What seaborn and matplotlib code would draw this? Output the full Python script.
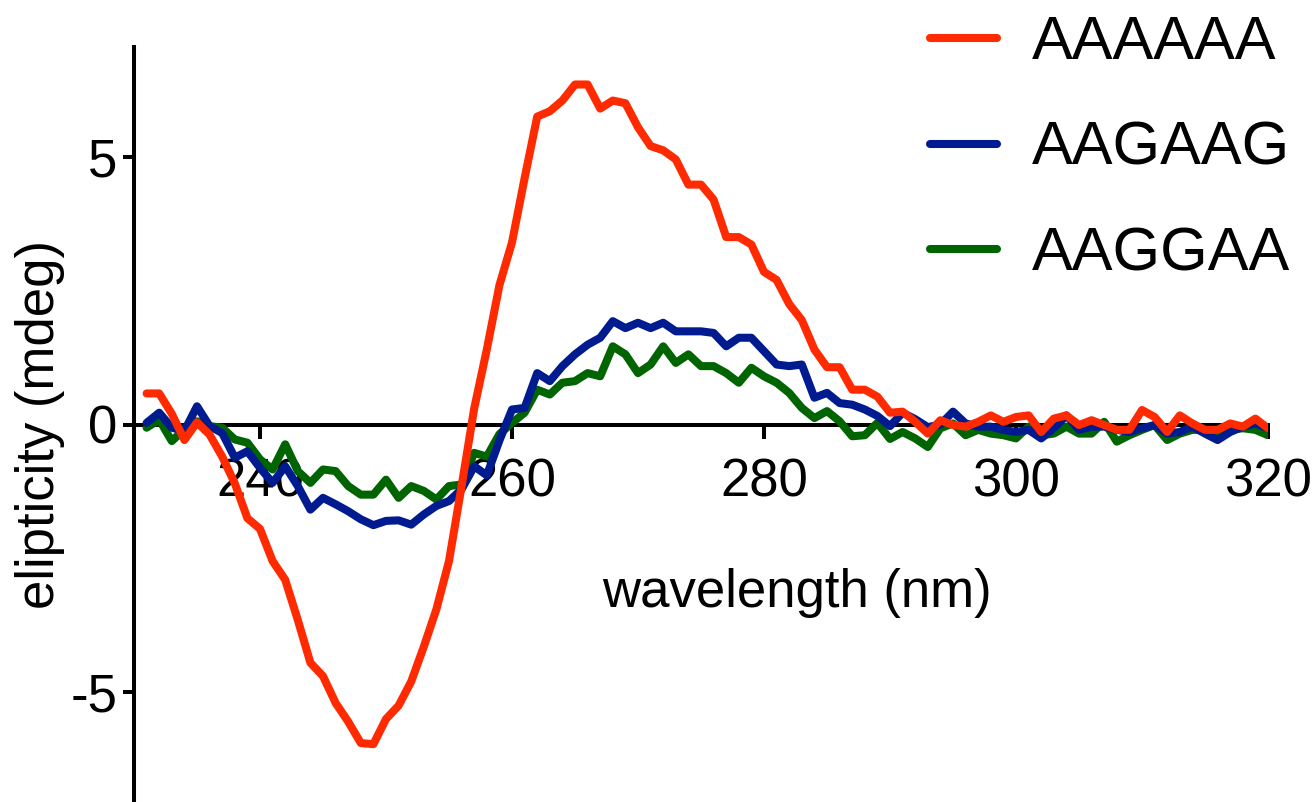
import numpy as np
import pandas as pd
import seaborn as sns
import matplotlib
matplotlib.use('Agg')
import matplotlib.pyplot as plt

# CD spectra, 1 nm steps
wavelength = np.arange(231, 321)

aaaaaa = [0.58, 0.58, 0.20, -0.29, 0.04, -0.19, -0.60, -1.10, -1.75, -1.95,
          -2.55, -2.90, -3.65, -4.45, -4.70, -5.20, -5.55, -5.95, -5.97, -5.50,
          -5.25, -4.80, -4.15, -3.45, -2.55, -1.15, 0.30, 1.40, 2.60, 3.40,
          4.60, 5.75, 5.85, 6.05, 6.35, 6.35, 5.90, 6.05, 6.00, 5.55,
          5.20, 5.12, 4.95, 4.48, 4.48, 4.20, 3.50, 3.50, 3.36, 2.85,
          2.70, 2.25, 1.95, 1.40, 1.07, 1.07, 0.65, 0.65, 0.52, 0.22,
          0.24, 0.05, -0.17, 0.08, -0.01, -0.04, 0.05, 0.17, 0.05, 0.14,
          0.17, -0.14, 0.11, 0.17, -0.01, 0.08, -0.01, -0.10, -0.10, 0.27,
          0.14, -0.14, 0.17, 0.02, -0.10, -0.10, 0.02, -0.04, 0.11, -0.07]

aagaag = [0.03, 0.22, -0.06, -0.12, 0.34, -0.03, -0.16, -0.62, -0.50, -0.81,
          -1.09, -0.78, -1.15, -1.59, -1.37, -1.49, -1.62, -1.77, -1.88, -1.80,
          -1.79, -1.87, -1.68, -1.52, -1.43, -1.21, -0.78, -0.95, -0.30, 0.28,
          0.31, 0.96, 0.81, 1.09, 1.31, 1.49, 1.62, 1.93, 1.80, 1.90,
          1.80, 1.90, 1.74, 1.74, 1.74, 1.71, 1.46, 1.62, 1.62, 1.37,
          1.12, 1.09, 1.12, 0.50, 0.59, 0.40, 0.37, 0.28, 0.16, -0.03,
          0.22, 0.10, -0.05, 0.00, 0.24, 0.02, -0.04, -0.04, -0.10, -0.14,
          -0.10, -0.26, -0.07, 0.17, -0.10, -0.04, -0.04, -0.10, -0.14, -0.07,
          -0.01, -0.17, -0.14, -0.04, -0.17, -0.29, -0.14, -0.04, 0.02, -0.07]

aaggaa = [-0.06, 0.09, -0.31, -0.09, 0.06, -0.03, -0.06, -0.28, -0.34, -0.65,
          -0.84, -0.37, -0.87, -1.09, -0.84, -0.87, -1.15, -1.31, -1.31, -1.03,
          -1.37, -1.15, -1.24, -1.40, -1.15, -1.12, -0.53, -0.60, -0.18, 0.03,
          0.22, 0.65, 0.56, 0.78, 0.81, 0.96, 0.90, 1.46, 1.31, 0.96,
          1.12, 1.46, 1.15, 1.31, 1.09, 1.09, 0.96, 0.78, 1.06, 0.90,
          0.78, 0.59, 0.31, 0.12, 0.25, 0.06, -0.22, -0.20, 0.03, -0.27,
          -0.14, -0.26, -0.42, -0.07, 0.02, -0.20, -0.10, -0.17, -0.20, -0.26,
          -0.04, -0.20, -0.17, -0.04, -0.17, -0.17, 0.05, -0.32, -0.20, -0.10,
          -0.01, -0.29, -0.17, -0.10, -0.10, -0.14, -0.10, -0.07, -0.10, -0.20]

names = ['AAAAAA', 'AAGAAG', 'AAGGAA']
colors = {'AAAAAA': '#ff2a00', 'AAGAAG': '#001a8f', 'AAGGAA': '#006400'}

df = pd.DataFrame({'wavelength': np.tile(wavelength, 3),
                   'ellipticity': aaaaaa + aagaag + aaggaa,
                   'seq': np.repeat(names, len(wavelength))})

sns.set_theme(style='ticks')
plt.rcParams['font.family'] = ['Liberation Sans', 'DejaVu Sans']
plt.rcParams['axes.unicode_minus'] = False
plt.rcParams['text.color'] = 'black'
plt.rcParams['axes.labelcolor'] = 'black'

fig = plt.figure(figsize=(13.16, 8.02), dpi=100)
ax = fig.add_axes([134 / 1316, 0, 1134 / 1316, 755 / 802])

# draw green first, red on top
sns.lineplot(data=df, x='wavelength', y='ellipticity', hue='seq',
             hue_order=names[::-1], palette=colors, linewidth=5.8,
             ax=ax, zorder=3, legend=False)

ax.set_xlim(230, 320)
ax.set_ylim(-7.05, 7.05)

ax.spines['top'].set_visible(False)
ax.spines['right'].set_visible(False)
ax.spines['bottom'].set_position(('data', 0))
for s in ['left', 'bottom']:
    ax.spines[s].set_linewidth(2.9)
    ax.spines[s].set_color('black')

ax.set_xticks([240, 260, 280, 300, 320])
ax.set_yticks([-5, 0, 5])
ax.tick_params(axis='both', labelsize=38, width=2.9, color='black', labelcolor='black')
ax.tick_params(axis='x', length=10, pad=14)
ax.tick_params(axis='y', length=8, pad=4)

ax.set_xlabel('wavelength (nm)', fontsize=38)
ax.set_ylabel('elipticity (mdeg)', fontsize=38, labelpad=4)
ax.xaxis.set_label_coords(0.585, 0.31)

handles = [plt.Line2D([], [], color=colors[n], linewidth=5.8, solid_capstyle='round') for n in names]
leg = fig.legend(handles, names, loc='upper left', bbox_to_anchor=(930 / 1316, 1 - 15 / 802),
                 frameon=False, fontsize=44, handlelength=1.1, handletextpad=0.56,
                 labelspacing=0.8, borderpad=0, borderaxespad=0)

fig.savefig('out.png', dpi=100, facecolor='white')
